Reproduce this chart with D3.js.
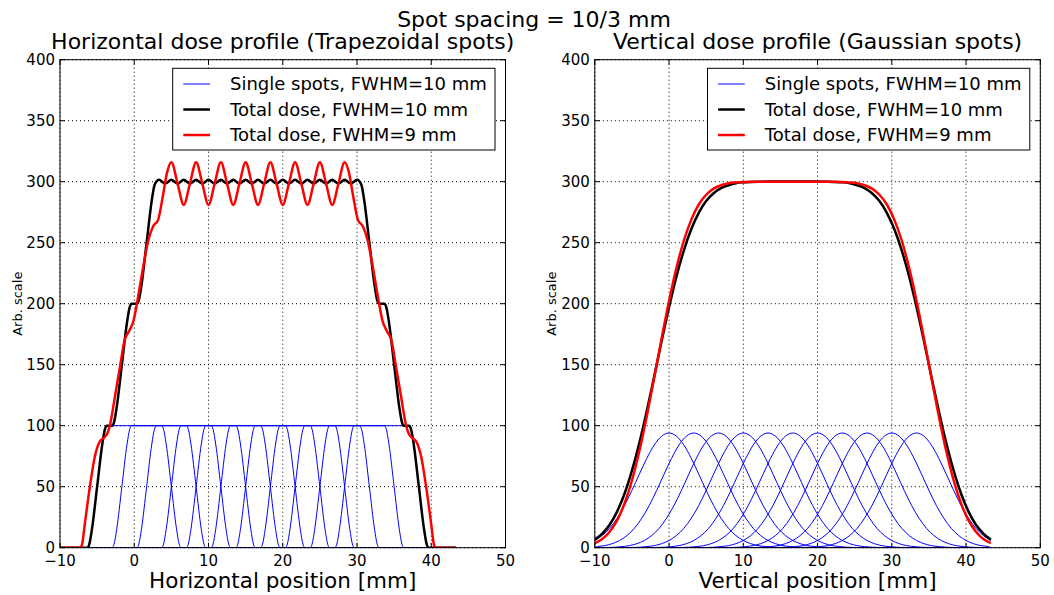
<!DOCTYPE html>
<html><head><meta charset="utf-8">
<script src="https://cdn.jsdelivr.net/npm/d3@7"></script>
<style>
body{margin:0;background:#fff;}
svg{font-family:"DejaVu Sans", sans-serif;display:block;}
</style></head><body>
<svg id="chart" width="1054" height="595"></svg>
<script>
// ---------- data ----------
const suptitle = "Spot spacing = 10/3 mm";
const xTicks = [-10, 0, 10, 20, 30, 40, 50];
const yTicks = [0, 50, 100, 150, 200, 250, 300, 350, 400];
const legendLabels = ["Single spots, FWHM=10 mm", "Total dose, FWHM=10 mm", "Total dose, FWHM=9 mm"];

// spot centres (mm)
const spotCenters = [0, 3.333, 6.667, 10, 13.333, 16.667, 20, 23.333, 26.667, 30, 33.333];

// single trapezoidal spot profile (offset from centre, value)
const trapShapeX = [-6.3, -6.05, -5.7, -5.0, -4.3, -3.95, -3.7, 3.7, 3.95, 4.3, 5.0, 5.7, 6.05, 6.3];
const trapShapeY = [0, 3, 15, 50, 85, 97, 100, 100, 97, 85, 50, 15, 3, 0];

// single gaussian spot profile (offset from centre, value)
const gaussShapeX = [-16,-15,-14,-13,-12,-11,-10,-9,-8,-7,-6,-5,-4,-3,-2,-1,0,1,2,3,4,5,6,7,8,9,10,11,12,13,14,15,16];
const gaussShapeY = [0.1,0.2,0.4,0.9,1.7,3.3,5.9,10.0,15.9,24.2,34.6,47.0,60.3,73.2,84.1,91.4,94.0,91.4,84.1,73.2,60.3,47.0,34.6,24.2,15.9,10.0,5.9,3.3,1.7,0.9,0.4,0.2,0.1];

// horizontal profile, total dose FWHM=10 mm
const hBlackX = [-10, -6.3, -6.05, -5.7, -5.0, -4.3, -3.95, -3.7,
  -2.967, -2.717, -2.367, -1.667, -0.967, -0.617, -0.367,
  0.367, 0.617, 0.967, 1.667, 2.367, 2.717, 2.967,
  3.333, 4.167, 5.0, 5.833, 6.667, 7.5, 8.333, 9.167, 10.0, 10.833, 11.667, 12.5, 13.333, 14.167, 15.0, 15.833, 16.667,
  17.5, 18.333, 19.167, 20.0, 20.833, 21.667, 22.5, 23.333, 24.167, 25.0, 25.833, 26.667, 27.5, 28.333, 29.167, 30.0,
  30.367, 30.617, 30.967, 31.667, 32.367, 32.717, 32.967,
  33.7, 33.95, 34.3, 35.0, 35.7, 36.05, 36.3,
  37.033, 37.283, 37.633, 38.333, 39.033, 39.383, 39.633, 43.333];
const hBlackY = [0, 0, 3, 15, 50, 85, 97, 100,
  100, 103, 115, 150, 185, 197, 200,
  200, 203, 215, 250, 285, 297, 300,
  301.5, 298.5, 301.5, 298.5, 301.5, 298.5, 301.5, 298.5, 301.5, 298.5, 301.5, 298.5, 301.5, 298.5, 301.5, 298.5, 301.5,
  298.5, 301.5, 298.5, 301.5, 298.5, 301.5, 298.5, 301.5, 298.5, 301.5, 298.5, 301.5, 298.5, 301.5, 298.5, 301.5,
  300, 297, 285, 250, 215, 203, 200,
  200, 197, 185, 150, 115, 103, 100,
  100, 97, 85, 50, 15, 3, 0, 0];

// horizontal profile, total dose FWHM=9 mm
const hRedX = [-10, -7.3, -7.05, -6.65, -6.0, -5.3, -4.65, -4.0, -3.6, -3.25, -2.6, -1.93, -1.3, -0.65, -0.1, 0.5, 1.2, 1.9, 2.55, 3.2, 3.9, 4.4,
  5.0, 5.833, 6.667, 7.5, 8.333, 9.167, 10.0, 10.833, 11.667, 12.5, 13.333, 14.167, 15.0, 15.833, 16.667,
  17.5, 18.333, 19.167, 20.0, 20.833, 21.667, 22.5, 23.333, 24.167, 25.0, 25.833, 26.667, 27.5, 28.333,
  28.933, 29.433, 30.133, 30.783, 31.433, 32.133, 32.833, 33.433, 33.983, 34.633, 35.263, 35.933, 36.583, 36.933, 37.333, 37.983, 38.633, 39.333, 39.983, 40.383, 40.633, 43.333];
const hRedY = [0, 0, 2, 20, 49, 75, 87, 90.5, 94, 101, 124, 148, 170, 178, 186, 205, 230, 252, 263.5, 268.5, 290, 307,
  316, 298.5, 281, 298.5, 316, 298.5, 281, 298.5, 316, 298.5, 281, 298.5, 316, 298.5, 281,
  298.5, 316, 298.5, 281, 298.5, 316, 298.5, 281, 298.5, 316, 298.5, 281, 298.5, 316,
  307, 290, 268.5, 263.5, 252, 230, 205, 186, 178, 170, 148, 124, 101, 94, 90.5, 87, 75, 49, 20, 2, 0, 0];

// vertical profile (gaussian) totals
const vX = [-10,-9,-8,-7,-6,-5,-4,-3,-2,-1,0,1,2,3,4,5,6,7,8,9,10,12,14,16.667,19.333,21.333,
  23.333,24.333,25.333,26.333,27.333,28.333,29.333,30.333,31.333,32.333,33.333,34.333,35.333,36.333,37.333,38.333,39.333,40.333,41.333,42.333,43.333];
const vBlackY = [6.6,11.5,18.8,29.6,44.2,63.1,85.9,112.1,140.3,169.3,197.1,222.4,243.8,261.2,274.5,284.1,290.5,294.7,297.1,298.8,299.5,300.0,300.1,300.2,300.1,300.0,
  299.5,298.8,297.1,294.7,290.5,284.1,274.5,261.2,243.8,222.4,197.1,169.3,140.3,112.1,85.9,63.1,44.2,29.6,18.8,11.5,6.6];
const vRedY = [3.7,7.1,13.1,22.4,36.2,55.1,79.2,107.8,139.3,171.5,202.3,229.4,251.8,268.9,281.3,289.3,294.3,297.1,298.7,299.4,299.8,300.0,300.0,300.0,300.0,300.0,
  299.8,299.4,298.7,297.1,294.3,289.3,281.3,268.9,251.8,229.4,202.3,171.5,139.3,107.8,79.2,55.1,36.2,22.4,13.1,7.1,3.7];

const xDomain = [-10, 50];
const yDomain = [0, 400];
const dataRange = [-10, 43.333];

// ---------- drawing ----------
const svg = d3.select('#chart');
const yTop = 59.7, yBot = 547.7;
const panels = [
  {x0: 60, x1: 505.5, title: "Horizontal dose profile (Trapezoidal spots)", xlabel: "Horizontal position [mm]",
   shapeX: trapShapeX, shapeY: trapShapeY,
   black: d3.zip(hBlackX, hBlackY), red: d3.zip(hRedX, hRedY)},
  {x0: 594.8, x1: 1040.3, title: "Vertical dose profile (Gaussian spots)", xlabel: "Vertical position [mm]",
   shapeX: gaussShapeX, shapeY: gaussShapeY,
   black: d3.zip(vX, vBlackY), red: d3.zip(vX, vRedY)}
];

svg.append('text').attr('x', 534).attr('y', 27).attr('text-anchor', 'middle')
  .attr('font-size', 22).text(suptitle);

const fmt = v => v < 0 ? '\u2212' + Math.abs(v) : String(v);

panels.forEach((p, i) => {
  const x = d3.scaleLinear(xDomain, [p.x0, p.x1]);
  const y = d3.scaleLinear(yDomain, [yBot, yTop]);
  const g = svg.append('g');
  const clipId = 'clip' + i;
  svg.append('clipPath').attr('id', clipId).append('rect')
    .attr('x', p.x0).attr('y', yTop).attr('width', p.x1 - p.x0).attr('height', yBot - yTop);

  // grid
  const grid = g.append('g').attr('stroke', '#000').attr('stroke-width', 1).attr('stroke-dasharray', '1,3');
  xTicks.forEach(t => grid.append('line').attr('x1', x(t)).attr('x2', x(t)).attr('y1', yTop).attr('y2', yBot));
  yTicks.forEach(t => grid.append('line').attr('x1', p.x0).attr('x2', p.x1).attr('y1', y(t)).attr('y2', y(t)));

  const line = d3.line().x(d => x(d[0])).y(d => y(d[1])).curve(d3.curveMonotoneX);
  const plot = g.append('g').attr('clip-path', `url(#${clipId})`).attr('fill', 'none');

  // single spots
  spotCenters.forEach(c => {
    let pts = p.shapeX.map((dx, k) => [c + dx, p.shapeY[k]])
      .filter(d => d[0] >= dataRange[0] - 1e-6 && d[0] <= dataRange[1] + 1e-6);
    if (pts[0][0] > dataRange[0] + 1e-6) pts.unshift([dataRange[0], 0]);
    if (pts[pts.length - 1][0] < dataRange[1] - 1e-6) pts.push([dataRange[1], 0]);
    plot.append('path').attr('d', line(pts)).attr('stroke', '#0000ff').attr('stroke-width', 1);
  });
  plot.append('path').attr('d', line(p.black)).attr('stroke', '#000').attr('stroke-width', 2.5);
  plot.append('path').attr('d', line(p.red)).attr('stroke', '#ff0000').attr('stroke-width', 2.5);

  // spines
  g.append('rect').attr('x', p.x0).attr('y', yTop).attr('width', p.x1 - p.x0).attr('height', yBot - yTop)
    .attr('fill', 'none').attr('stroke', '#000').attr('stroke-width', 1);

  // ticks (inward, all sides)
  const tk = g.append('g').attr('stroke', '#000').attr('stroke-width', 1);
  const L = 5;
  xTicks.forEach(t => {
    tk.append('line').attr('x1', x(t)).attr('x2', x(t)).attr('y1', yBot).attr('y2', yBot - L);
    tk.append('line').attr('x1', x(t)).attr('x2', x(t)).attr('y1', yTop).attr('y2', yTop + L);
  });
  yTicks.forEach(t => {
    tk.append('line').attr('x1', p.x0).attr('x2', p.x0 + L).attr('y1', y(t)).attr('y2', y(t));
    tk.append('line').attr('x1', p.x1).attr('x2', p.x1 - L).attr('y1', y(t)).attr('y2', y(t));
  });

  // tick labels
  xTicks.forEach(t => g.append('text').attr('x', x(t)).attr('y', 566).attr('text-anchor', 'middle')
    .attr('font-size', 15).text(fmt(t)));
  yTicks.forEach(t => g.append('text').attr('x', p.x0 - 5).attr('y', y(t)).attr('dy', '0.35em')
    .attr('text-anchor', 'end').attr('font-size', 15).text(fmt(t)));

  // titles / labels
  g.append('text').attr('x', (p.x0 + p.x1) / 2).attr('y', 49).attr('text-anchor', 'middle')
    .attr('font-size', 22).text(p.title);
  g.append('text').attr('x', (p.x0 + p.x1) / 2).attr('y', 588).attr('text-anchor', 'middle')
    .attr('font-size', 21.5).text(p.xlabel);
  g.append('text').attr('transform', `translate(${p.x0 - 43},${(yTop + yBot) / 2}) rotate(-90)`)
    .attr('text-anchor', 'middle').attr('dy', '0.35em').attr('font-size', 13).text('Arb. scale');

  // legend
  const lw = 322.3, lh = 81.7;
  const lx = p.x1 - 10.5 - lw, ly = yTop + 8.6;
  const lg = g.append('g');
  lg.append('rect').attr('x', lx).attr('y', ly).attr('width', lw).attr('height', lh)
    .attr('fill', '#fff').attr('stroke', '#000').attr('stroke-width', 1);
  const cols = ['#0000ff', '#000', '#ff0000'];
  const widths = [1, 2.5, 2.5];
  legendLabels.forEach((lab, k) => {
    const cy = ly + 15.7 + k * 25.5;
    lg.append('line').attr('x1', lx + 10.6).attr('x2', lx + 37.3).attr('y1', cy).attr('y2', cy)
      .attr('stroke', cols[k]).attr('stroke-width', widths[k]);
    lg.append('text').attr('x', lx + 57.3).attr('y', cy).attr('dy', '0.35em')
      .attr('font-size', 18).text(lab);
  });
});
</script>
</body></html>
